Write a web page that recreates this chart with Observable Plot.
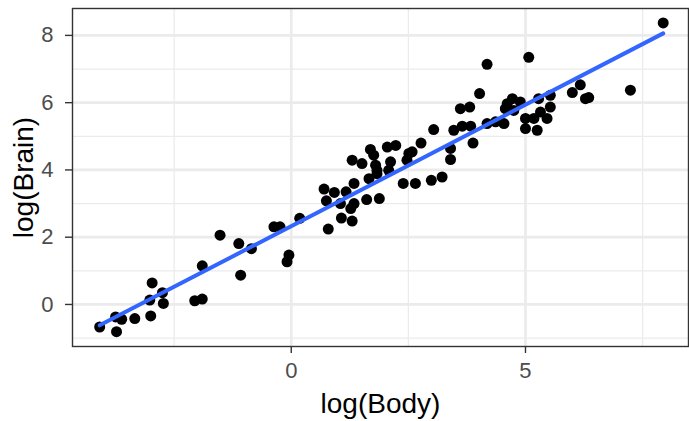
<!DOCTYPE html>
<html>
<head>
<meta charset="utf-8">
<script src="https://cdn.jsdelivr.net/npm/d3@7"></script>
<script src="https://cdn.jsdelivr.net/npm/@observablehq/plot@0.6"></script>
<style>
  html, body { margin: 0; padding: 0; background: #fff; }
  #chart svg { display: block; }
</style>
</head>
<body>
<div id="chart"></div>
<script>
// log(Body) values
const logBody = [
  -4.09, -3.73, -3.75, -3.62, -3.34, -3.00, -2.97, -3.02, -2.75, -2.73,
  -2.06, -1.90, -1.90, -1.52, -1.12, -1.08, -0.85, -0.37, -0.24, -0.05,
  -0.09, 0.18, 0.79, 1.07, 1.30, 0.70, 0.92, 0.75, 1.17, 1.34,
  1.05, 1.27, 1.34, 1.61, 1.88, 1.66, 1.83, 2.39, 1.30, 1.51,
  1.69, 1.76, 1.80, 1.83, 2.05, 2.23, 2.12, 2.08, 2.51, 2.58,
  2.47, 2.77, 3.04, 2.65, 2.99, 3.22, 3.40, 3.40, 3.47, 3.65,
  3.83, 3.88, 4.18, 5.07, 4.02, 3.61, 3.81, 4.18, 4.36, 4.54,
  4.61, 4.72, 4.75, 4.57, 4.89, 5.00, 5.00, 5.25, 5.18, 5.32,
  5.28, 5.46, 5.53, 5.53, 6.00, 6.17, 6.28, 6.35, 7.24, 7.94
];
// log(Brain) values
const logBrain = [
  -0.67, -0.81, -0.37, -0.44, -0.42, -0.34, 0.64, 0.13, 0.35, 0.03,
  0.11, 0.16, 1.15, 2.06, 1.81, 0.87, 1.66, 2.31, 2.31, 1.47,
  1.27, 2.56, 2.24, 2.57, 2.48, 3.43, 3.33, 3.08, 3.35, 3.60,
  3.00, 2.85, 3.00, 3.12, 3.15, 3.74, 3.89, 3.60, 4.29, 4.19,
  4.61, 4.44, 4.14, 3.99, 4.68, 4.73, 4.24, 3.99, 4.49, 4.54,
  4.29, 4.80, 5.20, 3.60, 3.69, 3.79, 4.31, 4.64, 5.18, 5.30,
  5.30, 4.80, 7.14, 7.35, 6.27, 5.82, 5.87, 5.38, 5.43, 5.38,
  5.97, 6.12, 5.77, 5.82, 6.02, 5.53, 5.23, 5.18, 5.53, 5.72,
  6.12, 5.53, 5.87, 6.22, 6.30, 6.53, 6.12, 6.15, 6.37, 8.37
];
const xMajorTicks = [0, 5];
const xMinorTicks = [-2.5, 2.5, 7.5];
const yMajorTicks = [0, 2, 4, 6, 8];
const yMinorTicks = [-1, 1, 3, 5, 7];
const xTitle = "log(Body)";
const yTitle = "log(Brain)";

const data = logBody.map((x, i) => ({x, y: logBrain[i]}));

const font = "'Liberation Sans', Arial, Helvetica, sans-serif";

const chart = Plot.plot({
  width: 689,
  height: 421,
  marginLeft: 72,
  marginRight: 1,
  marginTop: 8,
  marginBottom: 75,
  style: {fontFamily: font, background: "#fff"},
  x: {domain: [-4.67, 8.48], axis: null},
  y: {domain: [-1.25, 8.8], axis: null},
  marks: [
    Plot.gridX(xMinorTicks, {stroke: "#EBEBEB", strokeOpacity: 1, strokeWidth: 1.3}),
    Plot.gridY(yMinorTicks, {stroke: "#EBEBEB", strokeOpacity: 1, strokeWidth: 1.3}),
    Plot.gridX(xMajorTicks, {stroke: "#EBEBEB", strokeOpacity: 1, strokeWidth: 2.7}),
    Plot.gridY(yMajorTicks, {stroke: "#EBEBEB", strokeOpacity: 1, strokeWidth: 2.7}),
    Plot.dot(data, {x: "x", y: "y", r: 5.5, fill: "black", stroke: "none"}),
    Plot.linearRegressionY(data, {x: "x", y: "y", ci: 0, stroke: "#3366FF", strokeWidth: 4}),
    Plot.frame({stroke: "#333333", strokeWidth: 1.4}),
    Plot.axisX(xMajorTicks, {
      anchor: "bottom", tickSize: 7, tickPadding: 9, tickFormat: d => String(d),
      fontSize: 22, color: "#4D4D4D", stroke: "#333333", strokeWidth: 1.4, label: null
    }),
    Plot.axisY(yMajorTicks, {
      anchor: "left", tickSize: 7, tickPadding: 12, tickFormat: d => String(d),
      fontSize: 22, color: "#4D4D4D", stroke: "#333333", strokeWidth: 1.4, label: null
    }),
    Plot.text([xTitle], {frameAnchor: "bottom", dy: 58, lineAnchor: "middle", textAnchor: "middle", fontSize: 28, fill: "black", text: d => d}),
    Plot.text([yTitle], {frameAnchor: "left", dx: -48, rotate: -90, lineAnchor: "middle", textAnchor: "middle", fontSize: 28, fill: "black", text: d => d})
  ]
});
document.getElementById("chart").appendChild(chart);
</script>
</body>
</html>
